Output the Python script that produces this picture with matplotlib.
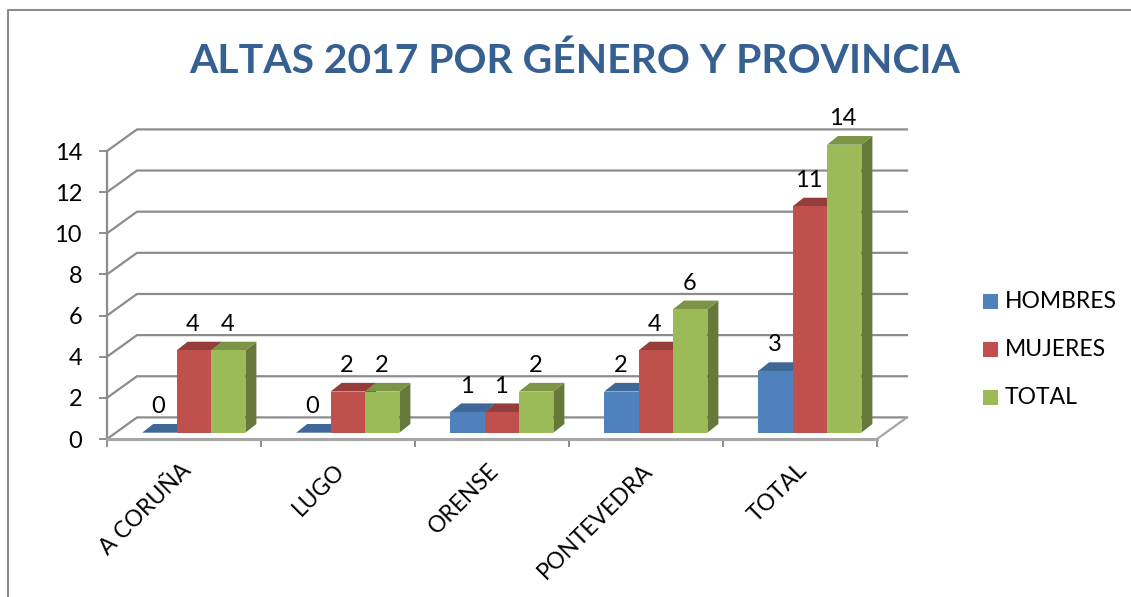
import matplotlib
matplotlib.use("Agg")
import matplotlib.pyplot as plt
from matplotlib.lines import Line2D
from matplotlib.patches import Polygon, Rectangle

plt.rcParams["font.family"] = ["Lato", "DejaVu Sans"]

# data
categories = ["A CORUÑA", "LUGO", "ORENSE", "PONTEVEDRA", "TOTAL"]
hombres = [0, 0, 1, 2, 3]
mujeres = [4, 2, 1, 4, 11]
total = [4, 2, 2, 6, 14]
series_names = ["HOMBRES", "MUJERES", "TOTAL"]
y_ticks = [0, 2, 4, 6, 8, 10, 12, 14]

FRONT = ["#4f81bd", "#c0504d", "#9bbb59"]
TOP = ["#3f6797", "#953d3b", "#7b9446"]
SIDE = ["#355680", "#7e3331", "#67793a"]
GREY = "#8c8c8c"
TEXT = "#000000"

W, H = 1131, 597
fig = plt.figure(figsize=(W / 100, H / 100), dpi=100, facecolor="white")

# plot box in pixels
left, right, y0, y14 = 107, 877, 439, 151
ax = fig.add_axes([left / W, 1 - y0 / H, (right - left) / W, (y0 - y14) / H])
ax.set_xlim(0, 5)
ax.set_ylim(0, 14)
ax.patch.set_visible(False)

px_x = 5 / (right - left)
px_y = 14 / (y0 - y14)

# fake 3d depth
wall_dx, wall_dy = 30 * px_x, 21.6 * px_y
bar_dx, bar_dy = 11 * px_x, 8.7 * px_y
base = 6.3 * px_y
bar_w = 34.4 * px_x
start = 35.2 * px_x

for s in ax.spines.values():
    s.set_visible(False)

# back wall, floor
for v in y_ticks:
    ax.plot([0, wall_dx, 5 + wall_dx], [v, v + wall_dy, v + wall_dy],
            color=GREY, lw=1.6, clip_on=False, zorder=1, solid_joinstyle="miter")
ax.plot([5, 5 + wall_dx], [0, wall_dy], color="#a6a6a6", lw=1.6, clip_on=False, zorder=1)
ax.plot([0, 0], [0, 14], color=GREY, lw=1.6, clip_on=False, zorder=2)
ax.plot([0, 5], [0, 0], color="#a6a6a6", lw=2.2, clip_on=False, zorder=2)

# bars
for i, cat in enumerate(categories):
    for j, vals in enumerate([hombres, mujeres, total]):
        v = vals[i]
        x = i + start + j * bar_w
        top = base + v
        z = 3 + i + j * 0.1
        ax.add_patch(Polygon([(x + bar_w, base), (x + bar_w + bar_dx, base + bar_dy),
                              (x + bar_w + bar_dx, top + bar_dy), (x + bar_w, top)],
                             fc=SIDE[j], ec="none", zorder=z, clip_on=False))
        ax.add_patch(Polygon([(x, top), (x + bar_dx, top + bar_dy),
                              (x + bar_w + bar_dx, top + bar_dy), (x + bar_w, top)],
                             fc=TOP[j], ec="none", zorder=z, clip_on=False))
        ax.bar(x, v, bar_w, bottom=base, align="edge", color=FRONT[j], zorder=z + 0.01, clip_on=False)
        ax.text(x + bar_w / 2 - 1 * px_x, top + 26 * px_y, str(v), ha="center", va="center",
                fontsize=17, color=TEXT, zorder=20)

# axis ticks
ax.set_yticks(y_ticks)
ax.tick_params(axis="y", length=6, width=1.4, color=GREY, labelsize=17, labelcolor=TEXT, pad=12)
ax.set_xticks(range(6))
ax.set_xticklabels([])
ax.tick_params(axis="x", which="major", length=6, width=1.4, color=GREY)
ax.set_xticks([i + 0.5 - 4 * px_x for i in range(5)], minor=True)
ax.set_xticklabels(categories, minor=True, rotation=45, ha="right", va="top",
                   rotation_mode="anchor", fontsize=16.5, color=TEXT)
ax.tick_params(axis="x", which="minor", length=0, pad=15)

# title
fig.text(575 / W, 1 - 61 / H, "ALTAS 2017 POR GÉNERO Y PROVINCIA", ha="center", va="center",
         fontsize=29.4, fontweight="bold", color="#376092")

# legend
for name, color, ly in zip(series_names, FRONT, [301.5, 349.5, 397.5]):
    fig.add_artist(Rectangle((983 / W, 1 - (ly + 7.5) / H), 15 / W, 15 / H,
                             transform=fig.transFigure, fc=color, ec="none"))
    fig.text(1004.5 / W, 1 - (ly + 0.5) / H, name, ha="left", va="center", fontsize=16.5, color=TEXT)

# chart frame
fig.add_artist(Line2D([8 / W, 8 / W, 1], [0, 1 - 10 / H, 1 - 10 / H], color="#8c8c8c", lw=1.5))

fig.savefig("out.png", dpi=100)
